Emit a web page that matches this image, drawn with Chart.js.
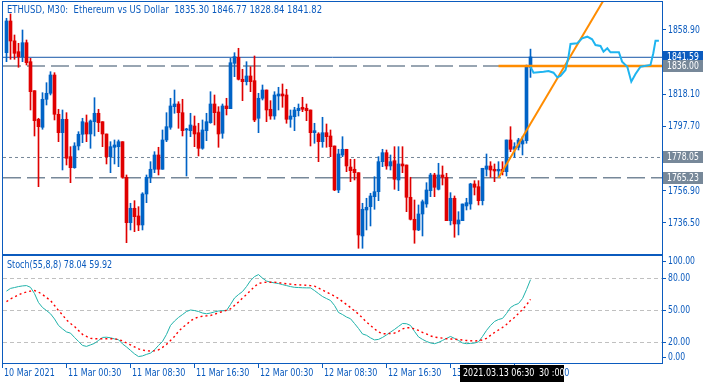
<!DOCTYPE html>
<html>
<head>
<meta charset="utf-8">
<title>ETHUSD M30</title>
<script src="https://cdn.jsdelivr.net/npm/chart.js@4"></script>
<style>
  html, body { margin: 0; padding: 0; background: #fff; }
  #wrap { position: relative; width: 714px; height: 384px; }
  #wrap canvas { position: absolute; left: 0; top: 0; }
</style>
</head>
<body>
<div id="wrap">
  <canvas id="priceChart" width="714" height="384"></canvas>
  <canvas id="stochChart" width="714" height="384"></canvas>
</div>
<script>
// ETHUSD M30 candles, bar 0 = 10 Mar 17:00
var opens = [1844.50,1864.60,1852.00,1845.14,1841.97,1850.84,1838.80,1820.41,1802.27,1797.20,
  1814.95,1818.76,1830.36,1805.44,1793.77,1802.27,1778.56,1771.58,1785.34,1792.76,
  1800.12,1792.95,1800.75,1806.08,1800.75,1792.95,1778.56,1784.52,1784.90,1788.07,
  1765.49,1736.71,1745.84,1740.95,1735.25,1754.90,1765.49,1770.57,1779.63,1770.57,
  1789.15,1797.20,1810.26,1811.97,1806.46,1795.49,1795.04,1798.02,1793.77,1783.88,
  1795.04,1800.12,1811.97,1806.90,1793.39,1810.71,1808.99,1837.78,1841.59,1827.64,
  1826.11,1829.73,1826.75,1802.91,1815.59,1820.85,1808.61,1804.36,1817.05,1818.31,
  1817.68,1802.27,1803.92,1807.73,1809.88,1809.25,1808.17,1793.77,1792.95,1788.07,
  1793.77,1791.68,1785.34,1757.44,1779.63,1783.25,1772.00,1770.57,1768.41,1728.27,
  1744.76,1746.85,1753.19,1756.36,1775.39,1781.09,1772.66,1776.02,1763.78,1773.93,
  1773.29,1752.81,1738.86,1732.08,1742.22,1748.56,1757.00,1766.95,1757.88,1766.95,
  1765.49,1737.97,1752.18,1735.88,1737.97,1747.30,1748.56,1761.25,1759.53,1750.66,
  1770.57,1772.66,1770.57,1769.49,1770.57,1769.05,1789.15,1783.25,1784.52,1786.61,
  1788.70,1835.30];
var highs = [1866.32,1869.04,1855.73,1850.46,1858.90,1852.56,1840.95,1820.41,1802.91,1819.14,
  1825.48,1832.45,1831.82,1808.61,1808.17,1806.46,1784.90,1787.43,1794.41,1802.91,
  1805.00,1801.83,1815.97,1808.61,1800.75,1792.95,1788.07,1789.15,1789.15,1788.07,
  1766.95,1749.01,1750.66,1746.85,1755.73,1766.95,1775.39,1781.73,1784.52,1795.49,
  1806.46,1815.59,1820.85,1813.43,1814.95,1796.56,1806.08,1804.36,1799.74,1801.83,
  1806.08,1819.77,1817.68,1810.26,1811.97,1815.59,1840.95,1844.50,1847.29,1833.98,
  1838.80,1835.63,1842.41,1818.76,1824.02,1820.85,1814.07,1819.77,1822.56,1824.66,
  1821.29,1808.17,1809.88,1811.97,1816.22,1811.97,1808.17,1799.74,1793.77,1803.54,
  1799.29,1795.49,1785.34,1783.25,1791.24,1783.25,1776.91,1776.91,1768.41,1749.01,
  1752.18,1755.35,1765.87,1778.56,1783.25,1782.80,1779.63,1784.90,1784.90,1784.90,
  1773.29,1765.49,1751.10,1747.93,1751.10,1762.07,1768.03,1768.03,1774.37,1772.66,
  1768.03,1755.73,1753.64,1743.68,1748.56,1752.18,1761.69,1763.34,1763.34,1771.20,
  1780.27,1775.39,1773.93,1775.39,1775.39,1789.15,1797.58,1787.43,1790.22,1791.24,
  1836.70,1846.77];
var lows = [1838.80,1840.32,1840.32,1835.25,1838.80,1836.70,1808.17,1791.68,1759.53,1795.93,
  1811.34,1817.68,1801.83,1788.07,1770.12,1773.29,1762.07,1771.20,1782.80,1787.43,
  1788.07,1783.88,1791.68,1794.41,1784.90,1773.93,1768.41,1773.93,1772.22,1764.86,
  1724.02,1732.08,1731.00,1731.63,1732.08,1749.39,1762.07,1768.41,1766.95,1770.57,
  1788.07,1795.93,1806.08,1796.56,1791.68,1766.32,1791.24,1784.90,1779.00,1783.25,
  1788.70,1799.74,1798.66,1784.52,1790.22,1805.00,1808.99,1829.28,1827.19,1814.07,
  1824.02,1819.77,1800.75,1793.77,1814.51,1800.75,1802.27,1802.27,1808.17,1809.88,
  1799.74,1797.20,1795.04,1804.36,1807.09,1801.38,1785.34,1787.05,1775.39,1784.52,
  1784.52,1778.56,1757.00,1755.73,1778.56,1769.05,1762.70,1763.78,1720.47,1720.47,
  1732.08,1734.61,1745.20,1750.66,1772.22,1770.57,1770.12,1757.88,1757.00,1768.41,
  1743.68,1738.42,1723.64,1731.63,1728.27,1746.47,1753.19,1753.19,1757.44,1760.61,
  1737.97,1735.25,1727.45,1728.91,1737.97,1744.76,1745.20,1754.27,1747.93,1747.93,
  1766.32,1765.49,1762.70,1765.87,1766.95,1766.32,1781.73,1778.18,1782.80,1779.63,
  1787.05,1828.84];
var closes = [1864.60,1851.92,1844.12,1841.97,1850.84,1838.16,1819.77,1801.38,1797.58,1814.95,
  1818.76,1830.36,1805.44,1793.77,1802.27,1777.54,1771.58,1785.34,1792.76,1800.75,
  1792.95,1801.19,1806.08,1800.12,1792.95,1778.56,1784.90,1785.98,1788.07,1765.49,
  1736.71,1745.84,1740.51,1735.25,1754.90,1765.49,1770.57,1779.63,1770.57,1789.15,
  1797.58,1810.71,1811.97,1806.46,1795.04,1795.93,1798.66,1792.95,1783.88,1795.49,
  1800.75,1811.97,1806.46,1792.95,1810.71,1808.99,1838.16,1841.97,1827.64,1826.11,
  1829.73,1826.11,1801.83,1815.59,1820.85,1808.17,1804.36,1817.68,1818.31,1817.05,
  1802.27,1804.36,1808.17,1809.25,1808.61,1807.73,1793.77,1795.04,1788.07,1793.77,
  1791.24,1784.90,1757.44,1780.27,1783.25,1772.66,1769.68,1768.41,1728.91,1745.20,
  1746.47,1753.64,1756.36,1775.39,1781.09,1772.66,1775.39,1764.23,1773.93,1772.66,
  1752.81,1738.86,1732.08,1742.22,1750.02,1757.44,1766.95,1759.15,1766.95,1765.49,
  1737.97,1752.18,1735.88,1738.42,1748.56,1749.39,1761.25,1759.15,1750.66,1771.20,
  1772.66,1770.12,1769.49,1770.57,1769.05,1789.15,1783.25,1784.90,1789.15,1788.70,
  1835.63,1841.82];

// Stochastic(55,8,8)
var stochMain = [67.5,70.0,70.8,71.7,72.3,72.6,71.0,65.2,56.9,52.3,
  49.5,46.5,41.7,35.7,32.5,29.7,28.6,24.6,20.9,17.2,
  16.3,17.7,19.1,21.8,24.6,24.8,24.3,23.2,22.5,18.6,
  15.8,12.6,9.4,6.9,7.5,8.9,10.1,13.1,17.2,20.9,
  27.4,35.7,39.8,43.1,45.8,48.6,50.0,49.5,48.6,47.2,
  46.5,47.2,48.2,49.1,49.3,49.5,55.1,61.1,64.3,67.1,
  71.7,77.2,80.9,82.8,79.5,76.8,75.8,75.1,74.5,73.5,
  72.6,71.7,71.0,70.8,70.6,70.5,70.5,68.0,65.2,62.5,
  60.6,58.8,54.2,47.7,45.8,43.5,41.9,37.5,32.9,27.8,
  26.6,24.2,22.3,22.8,24.6,26.9,29.5,32.0,34.8,37.5,
  37.3,35.7,30.2,25.1,22.8,20.9,19.5,18.8,20.0,21.8,
  23.7,25.5,23.7,21.8,19.5,18.8,19.1,19.4,20.5,25.5,
  31.1,35.7,39.4,41.2,42.2,46.8,52.3,54.6,56.0,60.6,
  68.9,78.04];
var stochSignal = [57.8,60.3,62.0,64.0,65.7,66.6,67.5,68.0,66.6,64.3,
  61.5,58.8,54.2,49.5,45.4,40.8,37.5,34.8,31.1,27.4,
  25.5,23.7,23.4,23.4,23.4,23.4,23.4,23.4,22.5,21.4,
  19.5,17.7,15.8,14.0,12.9,12.3,12.0,12.3,13.1,15.4,
  18.2,21.8,25.5,30.2,33.8,36.6,39.8,42.2,43.5,44.2,
  44.6,44.9,46.1,47.4,48.6,49.8,51.1,54.2,57.4,61.1,
  64.3,68.0,71.7,74.5,75.4,75.7,75.7,75.7,75.4,74.7,
  74.3,74.0,73.5,73.3,73.1,72.9,72.6,72.1,70.3,68.5,
  66.6,64.8,62.9,60.6,57.8,55.1,52.3,49.1,46.3,42.6,
  38.9,35.7,32.5,29.7,28.0,28.1,28.3,28.6,30.2,32.5,
  33.6,33.6,32.5,31.1,29.2,27.8,26.0,24.9,24.4,23.9,
  23.4,23.2,23.0,22.6,22.2,21.8,21.5,21.2,21.7,22.3,
  23.7,26.5,29.2,31.5,33.8,36.6,40.3,43.1,46.8,50.5,
  54.6,59.92];
var stochLevels = [80, 50, 20];
var stochTicks = [100, 80, 50, 20, 0];

// projected path drawn on the right side (bar index, price)
var forecastBars = [131, 131.75, 134.25, 135.5, 136.75, 137.7, 138.5, 139.75, 140.5, 141,
  142.7, 143.9, 145.2, 146.4, 147.25, 148.5, 149.25, 150.2, 151, 153.1,
  153.9, 155.2, 156.2, 157.25, 158.5, 161, 161.7, 162.25, 163.1];
var forecastPrices = [1835.6, 1831.82, 1832.45, 1832.90, 1831.82, 1828.90, 1829.73, 1833.53, 1841.97, 1850.02,
  1850.46, 1853.63, 1854.65, 1853.00, 1849.39, 1848.75, 1845.14, 1847.29, 1844.76, 1844.76,
  1838.80, 1835.63, 1826.11, 1830.99, 1835.63, 1836.70, 1844.12, 1852.11, 1852.11];

// levels and drawn objects
var bidPrice = 1841.59;
var greyLevels = [1836.00, 1778.05, 1765.23];
var greyDash = [[18, 6], [3, 3], [18, 6]];
var trendBars = [123, 150];
var trendPrices = [1765.23, 1880.9];
var hLineBars = [123, 164];
var hLinePrice = 1836.00;

var priceTicks = [1858.90, 1818.10, 1797.70, 1756.90, 1736.50];
var timeLabels = ['10 Mar 2021', '11 Mar 00:30', '11 Mar 08:30', '11 Mar 16:30', '12 Mar 00:30',
  '12 Mar 08:30', '12 Mar 16:30', '13 Mar 00:30', '13 Mar 08:30'];
var timeBars = [0, 15, 31, 47, 63, 79, 95, 111, 127];
var markerBar = 123;
var markerText = '2021.03.13 06:30';
var markerTail = '30 :00';

var xMin = -0.875, xMax = 163.875;
var upColor = '#0063C6', downColor = '#E00000';
var axisBlue = '#0B5BBE';
var font = '10px "DejaVu Sans", Verdana, sans-serif';

// text squeezed horizontally to get a Tahoma-like width
function drawText(ctx, s, x, y, sx) {
  ctx.save();
  ctx.translate(x, y);
  ctx.scale(sx || 0.78, 1);
  ctx.fillText(s, 0, 0);
  ctx.restore();
}

function candleColor(ctx) {
  var i = ctx.dataIndex;
  return closes[i] >= opens[i] ? upColor : downColor;
}
function levelData(y) {
  return [{x: xMin, y: y}, {x: xMax, y: y}];
}
function pairs(xs, ys) {
  return xs.map(function (x, i) { return {x: x, y: ys[i]}; });
}

var idx = opens.map(function (o, i) { return i; });

var datasets = [
  {
    type: 'bar', data: idx.map(function (i) { return {x: i, y: [lows[i], highs[i]]}; }),
    backgroundColor: candleColor, barThickness: 1, grouped: false, order: 5
  },
  {
    type: 'bar', data: idx.map(function (i) { return {x: i, y: [opens[i], closes[i]]}; }),
    backgroundColor: candleColor, barThickness: 3, minBarLength: 1, grouped: false, order: 4
  },
  {
    type: 'line', data: levelData(bidPrice), borderColor: '#1656A8', borderWidth: 1,
    pointRadius: 0, order: 8
  }
];
greyLevels.forEach(function (lv, k) {
  datasets.push({
    type: 'line', data: levelData(lv), borderColor: '#778899', borderWidth: k === 1 ? 1 : 1.5,
    borderDash: greyDash[k], pointRadius: 0, order: 9
  });
});
datasets.push({
  type: 'line', data: pairs(hLineBars, [hLinePrice, hLinePrice]), borderColor: '#FF8C00',
  borderWidth: 2.5, pointRadius: 0, order: 2
});
datasets.push({
  type: 'line', data: pairs(trendBars, trendPrices), borderColor: '#FF8C00',
  borderWidth: 2, pointRadius: 0, order: 2
});
datasets.push({
  type: 'line', data: pairs(forecastBars, forecastPrices), borderColor: '#1EB4F0',
  borderWidth: 2, pointRadius: 0, order: 1
});

var priceDecor = {
  id: 'priceDecor',
  afterDraw: function (chart) {
    var ctx = chart.ctx, a = chart.chartArea, y = chart.scales.y;
    ctx.save();
    ctx.strokeStyle = axisBlue;
    ctx.lineWidth = 1;
    ctx.strokeRect(a.left - 0.5, a.top - 0.5, a.width + 1, a.height + 1);

    var last = opens.length - 1;
    ctx.font = font;
    ctx.fillStyle = axisBlue;
    ctx.textBaseline = 'middle';
    drawText(ctx, 'ETHUSD, M30:  Ethereum vs US Dollar  ' + opens[last].toFixed(2) + ' ' +
      highs[last].toFixed(2) + ' ' + lows[last].toFixed(2) + ' ' + closes[last].toFixed(2), a.left + 4, 10, 0.845);

    // tick labels of the price scale
    y.ticks.forEach(function (t, i) {
      drawText(ctx, t.value.toFixed(2), a.right + 6, Math.round(y.getPixelForTick(i)) + 0.5, 0.77);
    });

    // highlighted price labels
    var boxes = [{v: bidPrice, c: '#0B5BBE'}].concat(greyLevels.map(function (v) { return {v: v, c: '#778899'}; }));
    boxes.forEach(function (b) {
      var py = Math.round(y.getPixelForValue(b.v));
      ctx.fillStyle = b.c;
      ctx.fillRect(a.right + 1, py - 6, 40, 12);
      ctx.fillStyle = '#ffffff';
      drawText(ctx, b.v.toFixed(2), a.right + 5, py + 0.5, 0.77);
    });
    ctx.restore();
  }
};

new Chart(document.getElementById('priceChart'), {
  type: 'bar',
  data: {datasets: datasets},
  options: {
    responsive: false,
    animation: false,
    layout: {padding: {left: 3, right: 0, top: 2, bottom: 130}},
    plugins: {legend: {display: false}, tooltip: {enabled: false}},
    scales: {
      x: {type: 'linear', min: xMin, max: xMax, offset: false, display: false},
      y: {
        type: 'linear', position: 'right', min: 1716.84, max: 1876.65,
        afterBuildTicks: function (s) { s.ticks = priceTicks.map(function (v) { return {value: v}; }); },
        afterFit: function (s) { s.width = 52; },
        ticks: {display: false},
        grid: {drawOnChartArea: false, drawTicks: true, tickLength: 4, color: axisBlue},
        border: {display: false}
      }
    }
  },
  plugins: [priceDecor]
});

var stochDecor = {
  id: 'stochDecor',
  beforeDatasetsDraw: function (chart) {
    var ctx = chart.ctx, a = chart.chartArea, y = chart.scales.y;
    ctx.save();
    ctx.strokeStyle = '#C0C0C0';
    ctx.lineWidth = 1;
    ctx.setLineDash([4, 3]);
    stochLevels.forEach(function (lv) {
      var py = Math.round(y.getPixelForValue(lv)) + 0.5;
      ctx.beginPath();
      ctx.moveTo(a.left, py);
      ctx.lineTo(a.right, py);
      ctx.stroke();
    });
    ctx.restore();
  },
  afterDraw: function (chart) {
    var ctx = chart.ctx, a = chart.chartArea, y = chart.scales.y, x = chart.scales.x;
    ctx.save();
    ctx.strokeStyle = axisBlue;
    ctx.lineWidth = 1;
    ctx.strokeRect(a.left - 0.5, a.top - 0.5, a.width + 1, a.height);
    ctx.font = font;
    ctx.fillStyle = axisBlue;
    ctx.textBaseline = 'middle';
    var last = stochMain.length - 1;
    drawText(ctx, 'Stoch(55,8,8) ' + stochMain[last].toFixed(2) + ' ' + stochSignal[last].toFixed(2), a.left + 4, a.top + 9, 0.8);

    // right axis labels, kept inside the panel
    stochTicks.forEach(function (v) {
      var py = Math.round(y.getPixelForValue(v));
      py = Math.max(a.top + 5, Math.min(a.bottom - 7, py));
      ctx.beginPath();
      ctx.moveTo(a.right, py + 0.5);
      ctx.lineTo(a.right + 4, py + 0.5);
      ctx.stroke();
      drawText(ctx, v.toFixed(2), a.right + 6, py + 0.5, 0.77);
    });

    // time axis
    var base = a.bottom;
    timeBars.forEach(function (b, k) {
      var px = k === 0 ? a.left : Math.round(x.getPixelForValue(b));
      ctx.beginPath();
      ctx.moveTo(px - 0.5, base);
      ctx.lineTo(px - 0.5, base + 4);
      ctx.stroke();
      drawText(ctx, timeLabels[k], px + 1, base + 9, 0.8);
    });

    // selected object time marker
    var mx = Math.round(x.getPixelForValue(markerBar));
    ctx.fillStyle = '#000000';
    ctx.fillRect(mx - 39, base + 1, 104, 17);
    ctx.fillStyle = '#ffffff';
    drawText(ctx, markerText, mx - 36, base + 9, 0.8);
    drawText(ctx, markerTail, mx + 40, base + 9, 0.8);
    ctx.restore();
  }
};

new Chart(document.getElementById('stochChart'), {
  type: 'line',
  data: {
    datasets: [
      {data: pairs(idx, stochMain), borderColor: '#20B2AA', borderWidth: 1, pointRadius: 0, order: 2},
      {data: pairs(idx, stochSignal), borderColor: '#FF0000', borderWidth: 1.4, borderDash: [2, 3], pointRadius: 0, order: 1}
    ]
  },
  options: {
    responsive: false,
    animation: false,
    layout: {padding: {left: 3, right: 0, top: 256, bottom: 20}},
    plugins: {legend: {display: false}, tooltip: {enabled: false}},
    scales: {
      x: {type: 'linear', min: xMin, max: xMax, display: false},
      y: {
        type: 'linear', position: 'right', min: 0, max: 100,
        afterFit: function (s) { s.width = 52; },
        ticks: {display: false},
        grid: {display: false},
        border: {display: false}
      }
    }
  },
  plugins: [stochDecor]
});
</script>
</body>
</html>
